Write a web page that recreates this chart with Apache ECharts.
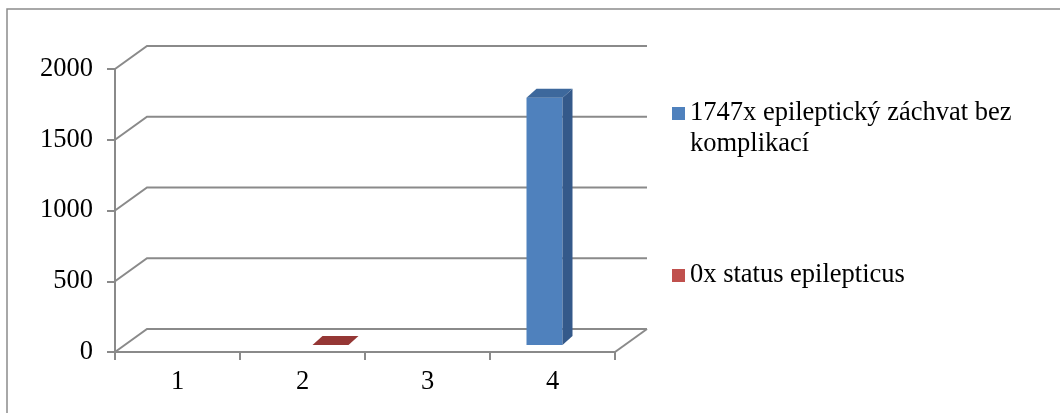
<!DOCTYPE html>
<html>
<head>
<meta charset="utf-8">
<script src="https://cdn.jsdelivr.net/npm/echarts@6/dist/echarts.min.js"></script>
<style>
  html, body { margin: 0; padding: 0; background: #fff; }
  #chart { width: 1060px; height: 413px; }
</style>
</head>
<body>
<div id="chart"></div>
<script>
// Data
const categories = ['1', '2', '3', '4'];
const seriesNames = ['1747x epileptický záchvat bez komplikací', '0x status epilepticus'];
const seizureValues = [null, null, null, 1747];
const statusValues = [null, 0, null, null];
const yTicks = [0, 500, 1000, 1500, 2000];

// 3D look: depth of the floor/walls and of the bars (pixels)
const WALL_DX = 32, WALL_DY = -23;
const BAR_FX = 10, BAR_FY = -7;     // bar front face offset from the front plane
const BAR_DX = 10, BAR_DY = -9;     // bar depth
const BAR_FRAC = 0.288;             // bar width as fraction of a category band
const GRID_COLOR = '#8a8a8a';
const FONT = 'Liberation Serif';
const FONT_SIZE = 26.5;

const palette = [
  { front: '#4F81BD', side: '#34598A', top: '#3D689C', legend: '#4F81BD' },
  { front: '#C0504D', side: '#8C3A38', top: '#953735', legend: '#C0504D' }
];

function toPoints(values) {
  const out = [];
  values.forEach((v, i) => { if (v !== null) out.push([i, v]); });
  return out;
}

function wallItem(params, api) {
  const cs = params.coordSys;
  const v = api.value(0);
  const y = api.coord([0, v])[1];
  const x0 = cs.x, x1 = cs.x + cs.width;
  const children = [{
    type: 'polyline',
    shape: { points: [[x0, y], [x0 + WALL_DX, y + WALL_DY], [x1 + WALL_DX, y + WALL_DY]] },
    style: { stroke: GRID_COLOR, lineWidth: 2, fill: null }
  }];
  if (v === 0) {
    children.push({
      type: 'line',
      shape: { x1: x1, y1: y, x2: x1 + WALL_DX, y2: y + WALL_DY },
      style: { stroke: GRID_COLOR, lineWidth: 2 }
    });
  }
  return { type: 'group', children };
}

function barRenderer(seriesIdx) {
  const c = palette[seriesIdx];
  return function (params, api) {
    const cat = api.value(0), val = api.value(1);
    const base = api.coord([cat, 0]);
    const top = api.coord([cat, val]);
    const band = api.size([1, 0])[0];
    const w = band * BAR_FRAC;
    const xl = (seriesIdx === 0 ? base[0] - w : base[0]) + BAR_FX;
    const xr = xl + w;
    const yb = base[1] + BAR_FY;
    const yt = top[1] + BAR_FY;
    const children = [];
    if (yb - yt > 0.5) {
      children.push({
        type: 'rect', shape: { x: xl, y: yt, width: w, height: yb - yt },
        style: { fill: c.front }
      });
      children.push({
        type: 'polygon',
        shape: { points: [[xr, yt], [xr + BAR_DX, yt + BAR_DY], [xr + BAR_DX, yb + BAR_DY], [xr, yb]] },
        style: { fill: c.side }
      });
    }
    children.push({
      type: 'polygon',
      shape: { points: [[xl, yt], [xl + BAR_DX, yt + BAR_DY], [xr + BAR_DX, yt + BAR_DY], [xr, yt]] },
      style: { fill: c.top }
    });
    return { type: 'group', children };
  };
}

const chart = echarts.init(document.getElementById('chart'), null, { renderer: 'canvas' });

const legendText = {
  fontFamily: FONT, fontSize: FONT_SIZE, color: '#000', lineHeight: 31
};

// Square marker sitting at the top of a taller item box, so that it lines up
// with the first line of a two-line legend label.
const topSquareIcon = 'path://M0,0H13V13H0Z M0,43.99H0.01V44H0Z';

chart.setOption({
  animation: false,
  backgroundColor: '#fff',
  graphic: [{
    type: 'rect',
    shape: { x: 7, y: 9, width: 1100, height: 500 },
    style: { fill: null, stroke: '#8c8c8c', lineWidth: 1.5 },
    silent: true
  }],
  grid: { left: 115, top: 69, width: 500, height: 283 },
  xAxis: {
    type: 'category',
    data: categories,
    boundaryGap: true,
    axisLine: { lineStyle: { color: GRID_COLOR, width: 2 } },
    axisTick: { show: true, length: 8, lineStyle: { color: GRID_COLOR, width: 2 } },
    axisLabel: { margin: 17, color: '#000', fontFamily: FONT, fontSize: FONT_SIZE },
    splitLine: { show: false }
  },
  yAxis: {
    type: 'value',
    min: 0, max: 2000, interval: 500,
    axisLine: { show: true, lineStyle: { color: GRID_COLOR, width: 2 } },
    axisTick: { show: true, length: 8, lineStyle: { color: GRID_COLOR, width: 2 } },
    axisLabel: {
      margin: 22, color: '#000', fontFamily: FONT, fontSize: FONT_SIZE,
      formatter: v => String(v)
    },
    splitLine: { show: false }
  },
  legend: [{
    data: [{ name: seriesNames[0], icon: topSquareIcon }],
    orient: 'vertical',
    left: 672, top: 98,
    padding: 0,
    itemWidth: 13, itemHeight: 44,
    formatter: n => n.replace(' komplikací', '\nkomplikací'),
    textStyle: legendText,
    selectedMode: false
  }, {
    data: [{ name: seriesNames[1], icon: 'rect' }],
    orient: 'vertical',
    left: 672, top: 260,
    padding: 0,
    itemWidth: 13, itemHeight: 13,
    textStyle: legendText,
    selectedMode: false
  }],
  series: [{
    type: 'custom',
    name: 'walls',
    silent: true,
    z: 1,
    renderItem: wallItem,
    data: yTicks.map(v => [v]),
    encode: { y: 0 }
  }, {
    type: 'custom',
    name: seriesNames[0],
    z: 3,
    itemStyle: { color: palette[0].legend },
    renderItem: barRenderer(0),
    data: toPoints(seizureValues),
    encode: { x: 0, y: 1 }
  }, {
    type: 'custom',
    name: seriesNames[1],
    z: 3,
    itemStyle: { color: palette[1].legend },
    renderItem: barRenderer(1),
    data: toPoints(statusValues),
    encode: { x: 0, y: 1 }
  }]
});
</script>
</body>
</html>
